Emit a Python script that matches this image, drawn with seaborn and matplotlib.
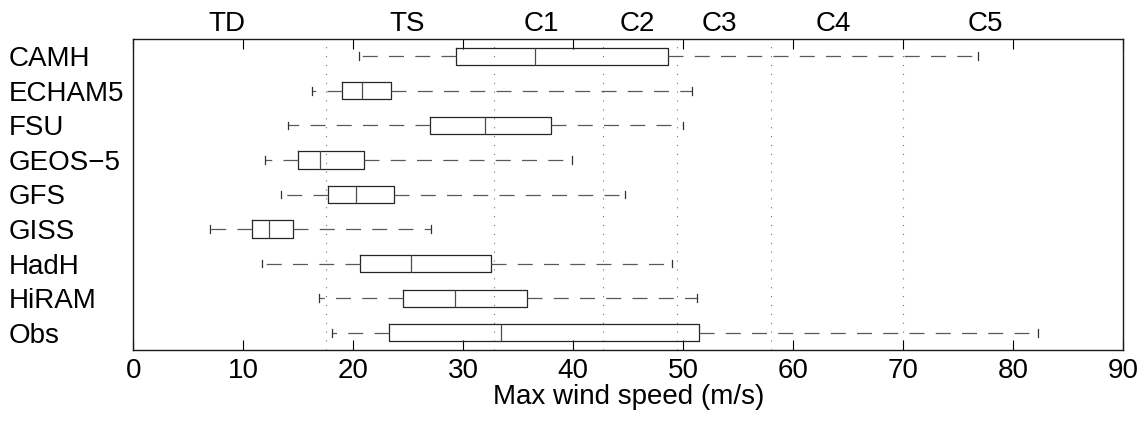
import pandas as pd; import numpy as np
import seaborn as sns; import matplotlib.pyplot as plt
from matplotlib.transforms import blended_transform_factory

# five-number summaries (m/s)
models = ["CAMH", "ECHAM5", "FSU", "GEOS\u22125", "GFS", "GISS", "HadH", "HiRAM", "Obs"]
whisk_lo = [20.5, 16.2, 14.1, 12.0, 13.4, 7.0, 11.7, 16.9, 18.1]
q1 = [29.3, 19.0, 27.0, 15.0, 17.7, 10.8, 20.6, 24.5, 23.2]
med = [36.5, 20.8, 32.0, 17.0, 20.2, 12.3, 25.2, 29.2, 33.4]
q3 = [48.6, 23.4, 38.0, 21.0, 23.7, 14.5, 32.5, 35.8, 51.4]
whisk_hi = [76.8, 50.8, 50.0, 39.9, 44.7, 27.1, 49.0, 51.2, 82.2]

# Saffir-Simpson category edges and label positions
cat_edges = [17.5, 32.8, 42.7, 49.4, 58.0, 70.0]
cat_names = ["TD", "TS", "C1", "C2", "C3", "C4", "C5"]
cat_pos = [8.5, 24.9, 37.1, 45.8, 53.3, 63.6, 77.5]

rows = []
for i, m in enumerate(models):
    for v in [whisk_lo[i], q1[i], med[i], q3[i], whisk_hi[i]]:
        rows.append((m, v))
df = pd.DataFrame(rows, columns=["model", "speed"])

plt.rcParams["font.family"] = ["Liberation Sans", "DejaVu Sans"]
plt.rcParams["font.size"] = 20

fig, ax = plt.subplots(figsize=(11.44, 4.22), dpi=100)
fig.subplots_adjust(left=133.3/1144, right=1123.3/1144, bottom=1-350/422, top=1-39/422)

for e in cat_edges:
    ax.axvline(e, color="0.45", lw=0.8, ls=(0, (1, 7)), zorder=1)

sns.boxplot(data=df, x="speed", y="model", order=models, orient="h",
            width=0.5, whis=(0, 100), fill=False, color="0.15", linewidth=0.9,
            showfliers=False, capwidths=0.22,
            whiskerprops=dict(color="0.35", linestyle=(0, (12, 9))),
            capprops=dict(color="0.2"),
            medianprops=dict(color="0.3"), ax=ax)

ax.set_xlim(0, 90)
ax.set_ylim(8.5, -0.5)
ax.set_xticks(range(0, 91, 10))
ax.tick_params(axis="x", direction="in", length=7, width=0.8, top=True, pad=6)
ax.tick_params(axis="y", length=0, pad=89.5)
for lab in ax.get_yticklabels():
    lab.set_horizontalalignment("left")
ax.set_ylabel("")
ax.set_xlabel("Max wind speed (m/s)", labelpad=0)
for s in ax.spines.values():
    s.set_linewidth(1.0)
    s.set_color("0.1")

trans = blended_transform_factory(ax.transData, ax.transAxes)
for p, n in zip(cat_pos, cat_names):
    ax.text(p, 1 + 8.3/311, n, transform=trans, ha="center", va="baseline")

plt.savefig("out.png", dpi=100)
